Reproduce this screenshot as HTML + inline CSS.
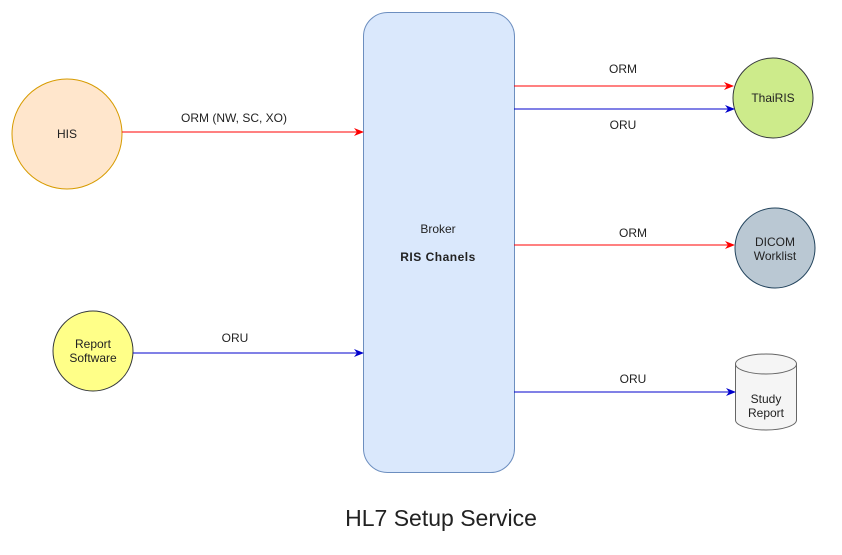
<!DOCTYPE html>
<html><head><style>body{margin:0;background:#fff}</style></head><body>
<svg width="842" height="550" xmlns="http://www.w3.org/2000/svg" font-family="Liberation Sans, sans-serif" font-size="12" fill="#222">
<defs>
<marker id="r" markerWidth="10" markerHeight="10" refX="9" refY="5" orient="auto" markerUnits="userSpaceOnUse"><path d="M0,1 L10,5 L0,9 L3,5 Z" fill="#f00"/></marker>
<marker id="b" markerWidth="10" markerHeight="10" refX="9" refY="5" orient="auto" markerUnits="userSpaceOnUse"><path d="M0,1 L10,5 L0,9 L3,5 Z" fill="#00c"/></marker>
</defs>
<rect x="363.5" y="12.5" width="151" height="460" rx="24" fill="#dae8fc" stroke="#6c8ebf"/>
<text x="438" y="233" text-anchor="middle">Broker</text>
<text x="438" y="261" text-anchor="middle" font-weight="bold" font-size="12" letter-spacing="0.5">RIS  Chanels</text>
<circle cx="67" cy="134" r="55" fill="#ffe6cc" stroke="#d79b00"/>
<text x="67" y="138" text-anchor="middle">HIS</text>
<circle cx="93" cy="351" r="40" fill="#ffff88" stroke="#36393d"/>
<text x="93" y="348" text-anchor="middle">Report</text>
<text x="93" y="362" text-anchor="middle">Software</text>
<circle cx="773" cy="98" r="40" fill="#cdeb8b" stroke="#36393d"/>
<text x="773" y="102" text-anchor="middle">ThaiRIS</text>
<circle cx="775" cy="248" r="40" fill="#bac8d3" stroke="#23445d"/>
<text x="775" y="246" text-anchor="middle">DICOM</text>
<text x="775" y="260" text-anchor="middle">Worklist</text>
<path d="M735.5,364 A30.5,10 0 0 1 796.5,364 L796.5,420 A30.5,10 0 0 1 735.5,420 Z" fill="#f5f5f5" stroke="#666"/>
<path d="M735.5,364 A30.5,10 0 0 0 796.5,364" fill="none" stroke="#666"/>
<text x="766" y="403" text-anchor="middle">Study</text>
<text x="766" y="417" text-anchor="middle">Report</text>
<line x1="122" y1="132" x2="363" y2="132" stroke="#f00" marker-end="url(#r)"/>
<text x="234" y="122" text-anchor="middle">ORM (NW, SC, XO)</text>
<line x1="133" y1="353" x2="363" y2="353" stroke="#00c" marker-end="url(#b)"/>
<text x="235" y="342" text-anchor="middle">ORU</text>
<line x1="514" y1="86" x2="733" y2="86" stroke="#f00" marker-end="url(#r)"/>
<text x="623" y="73" text-anchor="middle">ORM</text>
<line x1="514" y1="109" x2="734" y2="109" stroke="#00c" marker-end="url(#b)"/>
<text x="623" y="129" text-anchor="middle">ORU</text>
<line x1="514" y1="245" x2="734" y2="245" stroke="#f00" marker-end="url(#r)"/>
<text x="633" y="237" text-anchor="middle">ORM</text>
<line x1="514" y1="392" x2="735" y2="392" stroke="#00c" marker-end="url(#b)"/>
<text x="633" y="383" text-anchor="middle">ORU</text>
<text x="441" y="526" text-anchor="middle" font-size="23">HL7 Setup Service</text>
</svg>
</body></html>
